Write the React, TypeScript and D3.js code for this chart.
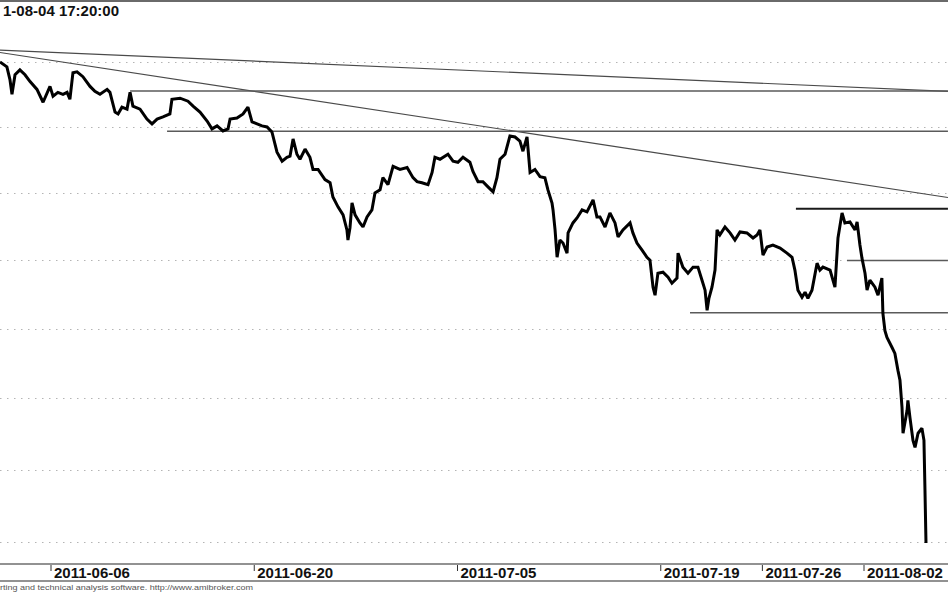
import React from "react";
import * as d3 from "d3";

// trading-session index (2011-06-06 = 0) and price
const sessionIdx: number[] = [
  -2.51, -2.17, -2.02, -1.92, -1.77, -1.53, -1.28, -1.03, -0.69, -0.39, -0.05, 0.1, 0.34, 0.59, 0.79, 0.93,
  1.08, 1.28, 1.57, 1.92, 2.16, 2.41, 2.76, 2.9, 3.15, 3.3, 3.49, 3.74, 3.89, 4.03, 4.38, 4.72, 4.97, 5.22,
  5.51, 5.85, 5.95, 6.35, 6.74, 6.99, 7.33, 7.68, 7.92, 8.17, 8.46, 8.71, 8.81, 9.15, 9.45, 9.69, 9.89,
  10.14, 10.38, 10.63, 10.87, 11.12, 11.37, 11.61, 11.76, 11.91, 12.1, 12.25, 12.5, 12.74, 12.89, 13.14,
  13.48, 13.73, 13.87, 14.12, 14.37, 14.56, 14.61, 14.71, 14.81, 14.96, 15.2, 15.35, 15.55, 15.79, 15.94,
  16.19, 16.33, 16.58, 16.83, 17.17, 17.52, 17.81, 18.01, 18.25, 18.55, 18.75, 18.89, 19.14, 19.53, 19.78,
  20.02, 20.27, 20.61, 20.76, 21.01, 21.25, 21.5, 21.75, 21.94, 22.09, 22.34, 22.58, 22.83, 23.07, 23.22,
  23.42, 23.57, 23.81, 24.06, 24.3, 24.45, 24.65, 24.7, 24.8, 24.9, 25.04, 25.19, 25.39, 25.44, 25.68,
  25.88, 26.13, 26.37, 26.67, 26.86, 27.01, 27.26, 27.5, 27.75, 27.9, 28.14, 28.49, 28.63, 28.83, 29.08,
  29.32, 29.47, 29.62, 29.72, 29.86, 30.11, 30.36, 30.55, 30.8, 30.85, 31.09, 31.34, 31.59, 31.83, 32.03,
  32.18, 32.28, 32.37, 32.52, 32.67, 32.77, 32.91, 33.16, 33.41, 33.65, 33.9, 34.24, 34.54, 34.74, 34.88,
  35.03, 35.23, 35.52, 35.87, 36.21, 36.46, 36.6, 36.75, 36.95, 37.1, 37.24, 37.44, 37.69, 37.83, 37.98,
  38.33, 38.57, 38.72, 38.92, 39.06, 39.31, 39.56, 39.66, 39.8, 39.9, 40.05, 40.15, 40.29, 40.54, 40.69,
  40.88, 40.93, 41.03, 41.13, 41.38, 41.52, 41.67, 41.77, 41.87, 41.92, 42.12, 42.16, 42.26, 42.41, 42.51,
  42.66, 42.85, 42.95, 43.0, 43.05,
];
const price: number[] = [
  2900, 2896.2, 2886.4, 2875.0, 2890.1, 2893.9, 2890.1, 2884.8, 2878.8, 2868.9, 2881.1, 2873.5, 2876.5, 2875.0, 2876.5, 2871.2,
  2891.7, 2892.4, 2888.6, 2881.1, 2877.3, 2875.0, 2878.8, 2876.5, 2861.3, 2859.9, 2865.1, 2863.6, 2876.5, 2865.9, 2863.6, 2856.0, 2852.3, 2856.0,
  2857.6, 2859.9, 2871.2, 2872.0, 2869.7, 2865.9, 2861.3, 2854.5, 2848.5, 2850.8, 2846.9, 2848.5, 2856.0, 2856.8, 2859.9, 2865.1, 2853.8,
  2852.3, 2850.8, 2850.0, 2846.2, 2830.8, 2823.9, 2826.9, 2827.7, 2840.8, 2829.2, 2825.4, 2833.1, 2826.9, 2817.7, 2817.7,
  2810.0, 2807.7, 2797.0, 2789.6, 2783.6, 2772.4, 2764.9, 2773.9, 2792.5, 2783.6, 2777.6, 2774.6, 2782.1, 2787.3, 2800.0,
  2802.3, 2811.5, 2806.2, 2820.0, 2817.7, 2819.2, 2811.5, 2808.5, 2807.7, 2806.2, 2815.4, 2826.9, 2825.4, 2829.2, 2823.9,
  2823.1, 2826.9, 2823.1, 2816.2, 2808.5, 2808.5, 2804.6, 2800.8, 2811.5, 2825.4, 2829.2, 2843.1, 2842.3, 2839.2, 2831.5,
  2842.3, 2815.4, 2817.7, 2812.3, 2811.5, 2802.3, 2792.5, 2787.3, 2772.4, 2752.2, 2764.9, 2762.7, 2755.2, 2770.2, 2777.6,
  2781.3, 2787.3, 2785.8, 2794.8, 2782.1, 2782.1, 2774.6, 2785.1, 2777.6, 2767.2, 2772.4, 2777.6, 2770.2, 2762.7, 2757.5,
  2752.2, 2750.0, 2730.2, 2724.3, 2740.4, 2741.2, 2737.5, 2733.1, 2736.8, 2755.2, 2744.9, 2740.4, 2744.9, 2744.9, 2735.3,
  2728.0, 2713.3, 2722.1, 2730.2, 2742.7, 2772.4, 2768.7, 2774.6, 2770.2, 2764.9, 2770.9, 2770.2, 2766.4, 2768.7, 2772.4,
  2753.7, 2759.7, 2761.2, 2759.0, 2755.2, 2752.2, 2742.7, 2728.0, 2722.8, 2726.5, 2722.1, 2728.0, 2747.8, 2742.7, 2744.9,
  2742.7, 2730.2, 2766.4, 2785.1, 2777.6, 2778.4, 2772.4, 2778.4, 2761.2, 2751.5, 2740.4, 2728.0, 2735.3, 2730.2, 2724.3,
  2736.8, 2711.0, 2698.6, 2693.6, 2686.4, 2682.2, 2670.0, 2662.9, 2643.7, 2625.4, 2641.6, 2648.6, 2636.6, 2620.4, 2615.5,
  2625.4, 2628.9, 2620.4, 2585.6, 2549.3,
];

const tickIdx: number[] = [0, 10, 20, 30, 35, 40];
const tickLabels: string[] = ["2011-06-06", "2011-06-20", "2011-07-05", "2011-07-19", "2011-07-26", "2011-08-02"];
const gridValues: number[] = [2550, 2600, 2650, 2700, 2750, 2800, 2850, 2900];

// drawn trend / support lines
const lineStartIdx: number[] = [-2.51, -2.51, 3.89, 5.71, 36.65, 39.16, 31.44];
const lineStartP: number[] = [2909.3, 2907.4, 2877.6, 2846.7, 2788.1, 2749.8, 2711.6];
const lineEndIdx: number[] = [44.13, 44.13, 44.13, 44.13, 44.13, 44.13, 44.13];
const lineEndP: number[] = [2877.3, 2796.6, 2877.6, 2846.7, 2788.1, 2749.8, 2711.6];
const lineStyle: string[] = ["trend", "trend", "level", "level", "strong", "level", "level"];

const titleText = "1-08-04 17:20:00";
const footerText = "rting and technical analysis software. http://www.amibroker.com";

const W = 948;
const H = 593;
const FONT = "'Liberation Sans', Arial, Helvetica, sans-serif";

export default function App() {
  const x = d3.scaleLinear().domain([0, 40]).range([51, 864]);
  const y = d3.scaleLog().domain([2550, 2900]).range([542, 62]);

  const pts: [number, number][] = sessionIdx.map((t, i) => [x(t), y(price[i])]);
  const line = d3.line<[number, number]>().x((d) => d[0]).y((d) => d[1]);

  return (
    <div style={{ position: "fixed", left: 0, top: 0, width: W, height: H, background: "#fff" }}>
      <svg width={W} height={H} style={{ display: "block" }}>
        <defs>
          <clipPath id="plot">
            <rect x={0} y={2} width={W} height={561} />
          </clipPath>
        </defs>
        <rect x={0} y={0} width={W} height={H} fill="#fff" />
        {/* top frame */}
        <rect x={0} y={0} width={W} height={2} fill="#6a6a6a" />
        <text x={3} y={16} fontFamily={FONT} fontWeight="bold" fontSize={15} fill="#111" textLength={116} lengthAdjust="spacingAndGlyphs">
          {titleText}
        </text>

        <g clipPath="url(#plot)">
          {gridValues.map((v) => (
            <line key={v} x1={0} x2={W} y1={Math.round(y(v)) + 0.5} y2={Math.round(y(v)) + 0.5}
              stroke="#b4b4b4" strokeWidth={1} strokeDasharray="1.5,5.5" />
          ))}
          {lineStartIdx.map((t, i) => {
            const st = lineStyle[i];
            return (
              <line key={i} x1={x(t)} y1={y(lineStartP[i])} x2={x(lineEndIdx[i])} y2={y(lineEndP[i])}
                stroke={st === "strong" ? "#1a1a1a" : st === "trend" ? "#4a4a4a" : "#5a5a5a"}
                strokeWidth={st === "strong" ? 2 : st === "trend" ? 1.2 : 1.6} />
            );
          })}
          <path d={line(pts) || ""} fill="none" stroke="#000" strokeWidth={3} strokeLinejoin="miter" strokeMiterlimit={2} />
        </g>

        {/* x axis band */}
        <line x1={0} x2={W} y1={564} y2={564} stroke="#6e6e6e" strokeWidth={1.6} />
        <line x1={0} x2={W} y1={581} y2={581} stroke="#6e6e6e" strokeWidth={1.6} />
        {tickIdx.map((t, i) => (
          <g key={t}>
            <line x1={x(t)} x2={x(t)} y1={565} y2={571} stroke="#333" strokeWidth={1} />
            <text x={x(t) + 3} y={577.5} fontFamily={FONT} fontWeight="bold" fontSize={15} fill="#111">
              {tickLabels[i]}
            </text>
          </g>
        ))}
        <text x={0} y={589.5} fontFamily={FONT} fontSize={8} fill="#555" textLength={253} lengthAdjust="spacingAndGlyphs">
          {footerText}
        </text>
      </svg>
    </div>
  );
}
